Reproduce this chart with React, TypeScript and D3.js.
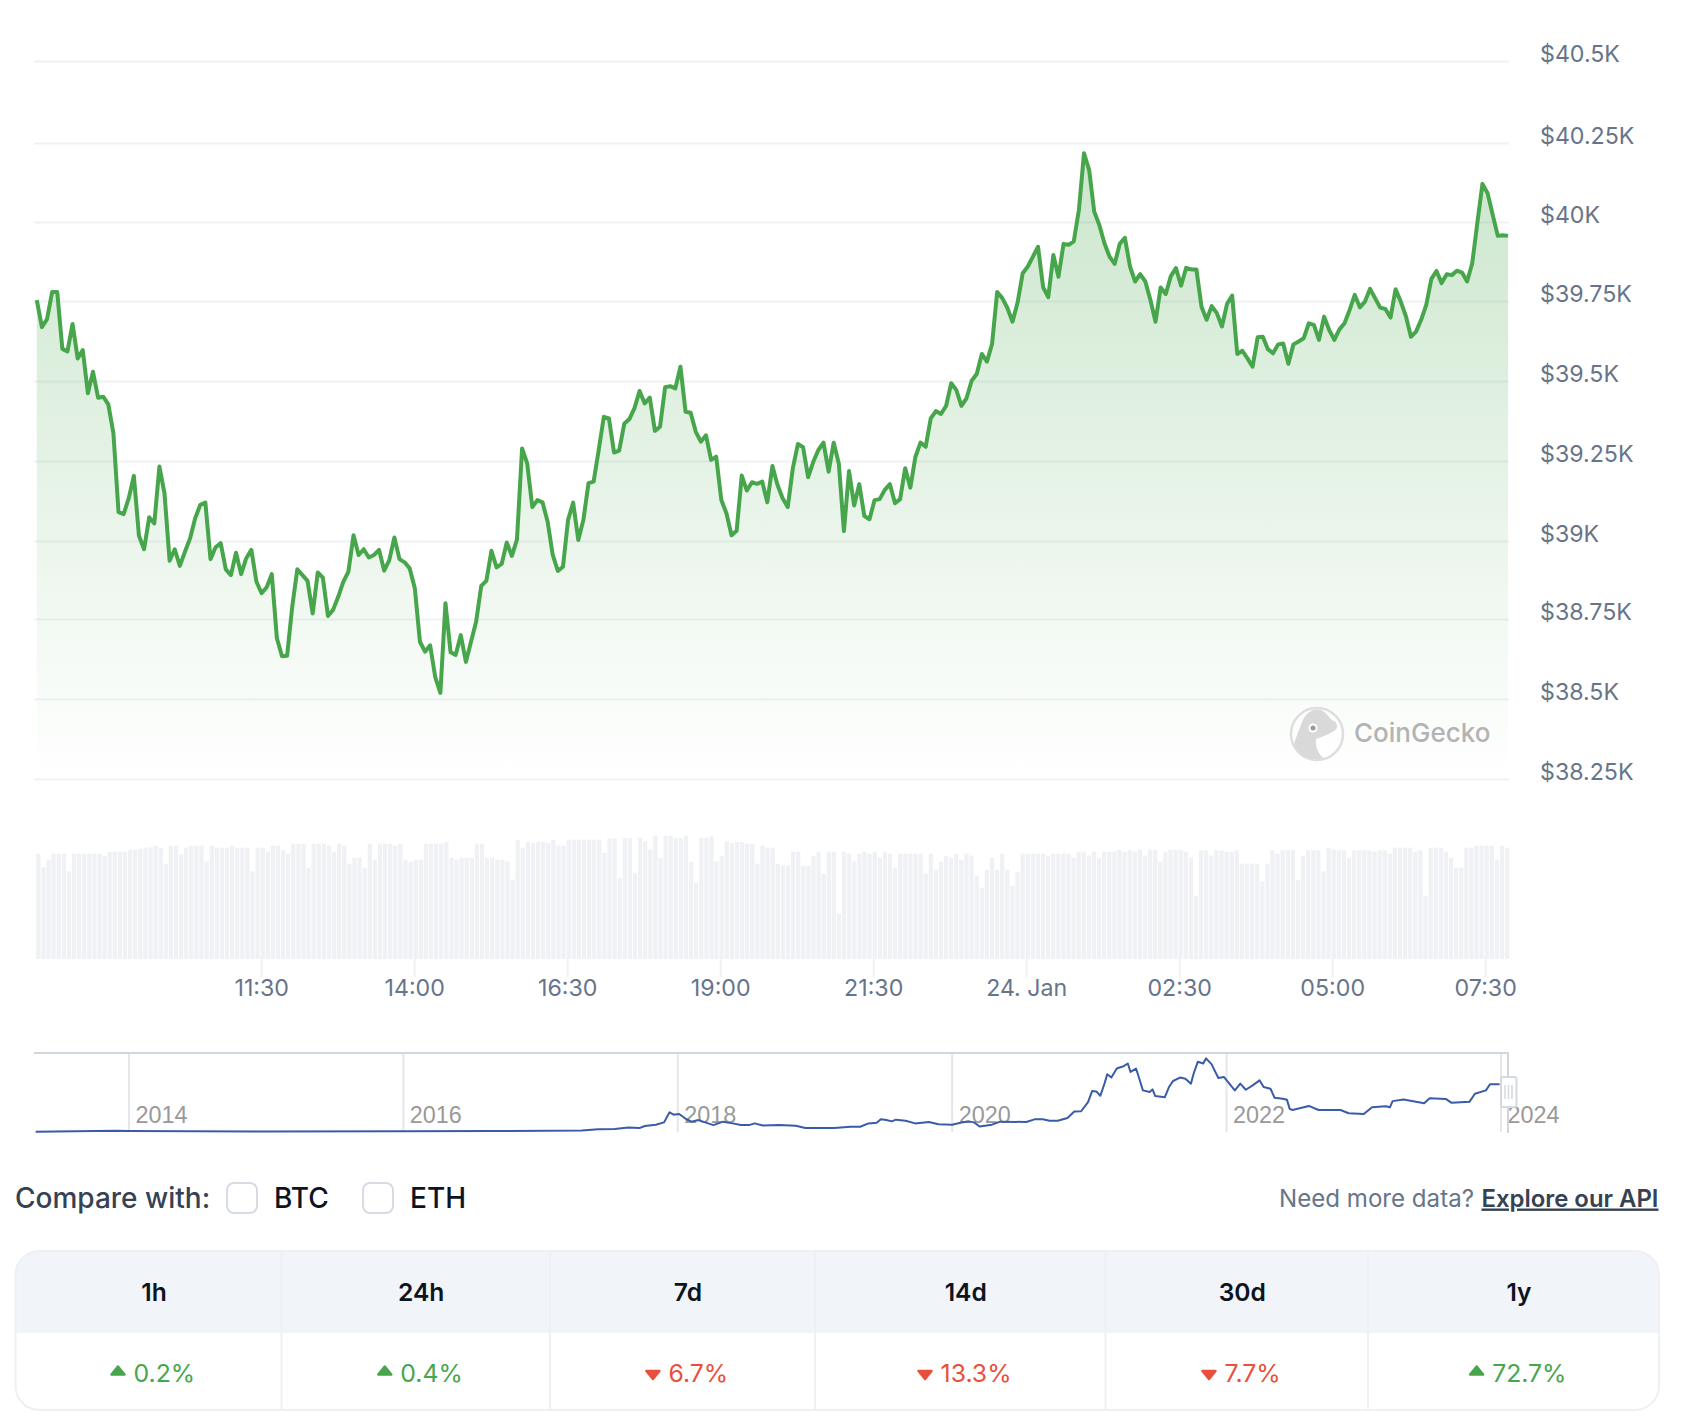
import React, { useEffect, useRef } from 'react';
import * as d3 from 'd3';

// 5 minute prices, 23 Jan 07:50 to 24 Jan 07:50
const prices = [
  39751, 39666, 39691, 39776, 39776, 39598, 39590, 39676, 39568, 39594, 39459, 39526, 39445, 39448, 39424, 39333,
  39086, 39080, 39130, 39200, 39012, 38970, 39070, 39051, 39229, 39145, 38934, 38970, 38918, 38962, 39004, 39067,
  39109, 39116, 38939, 38976, 38989, 38907, 38889, 38959, 38892, 38942, 38968, 38868, 38832, 38851, 38892, 38691,
  38635, 38636, 38790, 38907, 38889, 38871, 38769, 38897, 38881, 38761, 38780, 38821, 38868, 38900, 39014, 38952,
  38970, 38944, 38952, 38968, 38903, 38936, 39007, 38939, 38929, 38910, 38848, 38680, 38649, 38669, 38569, 38520,
  38801, 38647, 38639, 38701, 38617, 38680, 38743, 38855, 38871, 38965, 38913, 38924, 38991, 38949, 39001, 39286,
  39239, 39102, 39124, 39117, 39056, 38952, 38902, 38915, 39062, 39116, 38999, 39062, 39177, 39182, 39281, 39385,
  39380, 39273, 39279, 39363, 39378, 39412, 39466, 39427, 39445, 39341, 39354, 39478, 39481, 39474, 39542, 39401,
  39398, 39338, 39307, 39327, 39250, 39260, 39124, 39083, 39014, 39028, 39201, 39154, 39180, 39175, 39182, 39117,
  39231, 39171, 39130, 39102, 39224, 39300, 39290, 39196, 39244, 39281, 39304, 39213, 39304, 39239, 39027, 39215,
  39107, 39174, 39074, 39064, 39124, 39127, 39156, 39174, 39114, 39127, 39224, 39163, 39260, 39304, 39291, 39380,
  39403, 39394, 39419, 39490, 39469, 39419, 39443, 39498, 39519, 39582, 39558, 39613, 39776, 39757, 39726, 39683,
  39743, 39835, 39856, 39887, 39918, 39791, 39760, 39892, 39824, 39927, 39924, 39935, 40033, 40211, 40159, 40028,
  39986, 39929, 39887, 39864, 39927, 39946, 39856, 39809, 39832, 39809, 39751, 39683, 39790, 39770, 39826, 39851,
  39796, 39852, 39847, 39847, 39730, 39689, 39732, 39710, 39668, 39739, 39765, 39582, 39592, 39568, 39542, 39634,
  39636, 39597, 39584, 39612, 39615, 39551, 39612, 39621, 39631, 39678, 39673, 39626, 39699, 39657, 39626, 39659,
  39678, 39720, 39767, 39728, 39746, 39786, 39756, 39727, 39723, 39696, 39785, 39746, 39701, 39636, 39652, 39689,
  39736, 39817, 39842, 39804, 39832, 39829, 39843, 39837, 39809, 39866, 39993, 40115, 40086, 40018, 39952, 39954,
  39952
];

const volumes = [
  316, 275, 298, 316, 316, 316, 263, 316, 316, 316, 316, 316, 316, 310, 321, 322, 322, 322, 328, 328, 330, 334, 335,
  340, 334, 286, 340, 340, 314, 334, 340, 340, 340, 292, 340, 334, 334, 334, 340, 334, 334, 334, 263, 334, 334, 322,
  340, 340, 326, 316, 346, 346, 346, 274, 346, 346, 346, 340, 322, 346, 340, 286, 304, 304, 274, 346, 298, 346, 346,
  346, 340, 346, 298, 292, 298, 298, 346, 346, 346, 346, 352, 304, 298, 304, 304, 304, 346, 346, 304, 304, 298, 298,
  292, 238, 358, 334, 352, 348, 352, 352, 348, 358, 340, 340, 358, 358, 358, 358, 358, 358, 358,
  318, 361, 361, 243, 363, 363, 258, 363, 353, 328, 370, 303, 370, 370, 363, 363, 370, 291, 228, 363, 363, 368, 293,
  310, 353, 348, 351, 351, 346, 346, 286, 340, 334, 334, 286, 281, 281, 322, 322, 280, 280, 310, 322, 256, 322, 322,
  136, 322, 316, 293, 316, 322, 316, 322, 304, 322, 316, 274, 316, 316, 316, 316, 316, 256, 316, 268, 292, 310, 304,
  316, 298, 316, 310, 250, 214, 268, 304, 268, 316, 268, 220, 262, 316, 316, 316, 316, 316, 310, 316, 316, 316, 316,
  304, 322, 322, 310, 322, 304, 322, 322, 322, 328, 322, 328, 322, 328, 310, 328, 328, 292, 322, 328, 328, 328, 322,
  304, 190,
  326, 326, 310, 326, 326, 322, 322, 326, 286, 286, 286, 286, 233, 286, 326, 316, 326, 326, 326, 238, 310, 326, 326,
  326, 263, 333, 328, 326, 326, 304, 326, 326, 326, 326, 322, 326, 326, 316, 334, 334, 334, 334, 322, 326, 190, 334,
  334, 334, 322, 304, 274, 274, 334, 334, 340, 340, 340, 340, 298, 340, 334
];

const priceTicks = [38250, 38500, 38750, 39000, 39250, 39500, 39750, 40000, 40250, 40500];
const gridRows = [779, 699, 619, 541, 461, 381, 301, 222, 143, 61];

// decimal year / price for the range navigator
const navYears = [
  2013.32, 2013.9, 2014.0, 2014.46, 2014.98, 2016.0, 2016.66, 2017.06, 2017.3, 2017.42, 2017.54, 2017.64, 2017.72,
  2017.76, 2017.84, 2017.9, 2017.94, 2017.97, 2018.01, 2018.06, 2018.1, 2018.15, 2018.2, 2018.26, 2018.33, 2018.4,
  2018.46, 2018.52, 2018.56, 2018.62, 2018.74, 2018.86, 2018.93, 2019.02, 2019.14, 2019.26, 2019.33, 2019.39, 2019.45,
  2019.48, 2019.52, 2019.56, 2019.59, 2019.66, 2019.73, 2019.83, 2019.9, 2020.0, 2020.06, 2020.12, 2020.16, 2020.2,
  2020.29, 2020.35, 2020.54, 2020.6, 2020.66, 2020.71, 2020.77, 2020.84, 2020.89, 2020.94, 2020.99, 2021.02, 2021.05,
  2021.08, 2021.11, 2021.13, 2021.16, 2021.2, 2021.22, 2021.25, 2021.28, 2021.3, 2021.34, 2021.36, 2021.39, 2021.44,
  2021.46, 2021.48, 2021.55, 2021.58, 2021.61, 2021.66, 2021.7, 2021.74, 2021.76, 2021.79, 2021.83, 2021.85, 2021.89,
  2021.94, 2021.98, 2022.06, 2022.1, 2022.14, 2022.19, 2022.24, 2022.27, 2022.32, 2022.35, 2022.41, 2022.44, 2022.46,
  2022.48, 2022.6, 2022.67, 2022.83, 2022.89, 2023.0, 2023.06, 2023.16, 2023.19, 2023.21, 2023.29, 2023.44, 2023.48,
  2023.6, 2023.64, 2023.77, 2023.81, 2023.89, 2023.92, 2023.99
];
const navPrices = [
  100, 1000, 800, 600, 300, 430, 650, 1000, 1300, 2500, 2600, 4100, 3480, 5400, 6600, 8850, 18300, 16100, 16700, 12000,
  9500, 11000, 8850, 6300, 9500, 7900, 6300, 6300, 7900, 6000, 6300, 5700, 3500, 3600, 3500, 4700, 4700, 7900, 8500,
  11700, 11000, 9800, 11400, 10400, 7900, 9200, 7000, 6700, 8500, 9800, 8850, 5000, 6700, 9500, 9200, 11700, 11700,
  10400, 10400, 13000, 19000, 19300, 27800, 38200, 37900, 33800, 45200, 54000, 50900, 59400, 60400, 61600, 64100,
  56200, 59400, 51500, 38900, 37300, 39800, 33500, 32500, 42000, 47700, 50900, 49900, 45200, 54700, 65700, 64100,
  68900, 63500, 50500, 51500, 38900, 45200, 39500, 43600, 48300, 42000, 40400, 31900, 31000, 30000, 21500, 20500,
  24300, 20500, 20500, 17400, 16700, 23000, 24000, 23000, 28800, 30300, 26900, 31600, 30700, 27200, 28100, 35700,
  38900, 44600, 44600
];
const navTicks = [2014, 2016, 2018, 2020, 2022, 2024];

const periods = ['1h', '24h', '7d', '14d', '30d', '1y'];
const changes = [0.2, 0.4, -6.7, -13.3, -7.7, 72.7];

const GREEN = '#47a64b';
const RED = '#e94f3d';
const FONT = 'Inter, sans-serif';

const Chart = () => {
  const ref = useRef<SVGSVGElement>(null);

  useEffect(() => {
    drawChart();
  });

  const drawChart = () => {
    const svg = d3.select(ref.current);
    svg.selectAll('*').remove();

    const start = Date.UTC(2024, 0, 23, 7, 50);
    const end = Date.UTC(2024, 0, 24, 7, 50);
    const timeOf = (i: number) => new Date(start + i * 300000);
    const xScale = d3.scaleUtc().domain([start, end]).range([36.8, 1508]);
    // the columns and the time axis run a touch shorter than the line
    const barScale = xScale.copy().range([36.8, 1505.6]);
    const yScale = d3.scaleLinear().domain([38250, 40500]).range([779, 61]);
    const gridScale = d3.scaleLinear().domain(priceTicks).range(gridRows);

    // grid and price labels
    const yAxis = svg
      .append('g')
      .attr('transform', 'translate(1509,0)')
      .call(
        d3
          .axisRight(gridScale)
          .tickValues(priceTicks)
          .tickFormat((d: any) => `$${d / 1000}K`)
          .tickSize(-1475)
          .tickPadding(31)
      );
    yAxis.select('.domain').remove();
    yAxis.selectAll('line').attr('stroke', '#f0f1f3').attr('stroke-width', 2);
    yAxis
      .selectAll('text')
      .attr('dy', 0)
      .attr('fill', '#677489')
      .style('font', `23.2px ${FONT}`);

    // area
    const defs = svg.append('defs');
    const gradient = defs
      .append('linearGradient')
      .attr('id', 'areaFill')
      .attr('gradientUnits', 'userSpaceOnUse')
      .attr('x1', 0)
      .attr('x2', 0)
      .attr('y1', yScale(d3.max(prices) as number))
      .attr('y2', yScale(38250));
    gradient.append('stop').attr('offset', 0).attr('stop-color', GREEN).attr('stop-opacity', 0.28);
    gradient.append('stop').attr('offset', 1).attr('stop-color', GREEN).attr('stop-opacity', 0);

    const area = d3
      .area<number>()
      .x((d, i) => xScale(timeOf(i)))
      .y0(yScale(38250))
      .y1(d => yScale(d));
    const line = d3
      .line<number>()
      .x((d, i) => xScale(timeOf(i)))
      .y(d => yScale(d));

    svg.append('path').datum(prices).attr('d', area).attr('fill', 'url(#areaFill)');
    svg
      .append('path')
      .datum(prices)
      .attr('d', line)
      .attr('fill', 'none')
      .attr('stroke', GREEN)
      .attr('stroke-width', 4)
      .attr('stroke-linejoin', 'round');

    // watermark
    const mark = svg.append('g').attr('transform', 'translate(1317,734)');
    mark.append('circle').attr('r', 26).attr('fill', '#fff').attr('fill-opacity', 0.6).attr('stroke', '#dedede').attr('stroke-width', 2.5);
    mark
      .append('path')
      .attr('d', 'M-23,10 C-20,0 -17,-6 -15,-12 C-11,-22 -2,-27 6,-23 C11,-20 13,-14 17,-13 C21,-11 21,-5 17,-3 C11,1 4,3 -1,5 C-2,12 1,19 6,24 C-6,28 -18,22 -23,10 Z')
      .attr('fill', '#d9d9d9');
    mark.append('circle').attr('cx', -4).attr('cy', -6).attr('r', 4.5).attr('fill', '#fff');
    mark.append('circle').attr('cx', -4).attr('cy', -6).attr('r', 2.5).attr('fill', '#9a9a9a');
    svg
      .append('text')
      .attr('x', 1354)
      .attr('y', 742)
      .attr('fill', '#b3b3b3')
      .style('font', `500 26px ${FONT}`)
      .text('CoinGecko');

    // volume
    const volScale = d3.scaleLinear().domain([0, 370]).range([959, 835.7]);
    svg
      .append('g')
      .selectAll('rect')
      .data(volumes)
      .join('rect')
      .attr('x', (d, i) => barScale(timeOf(i)) - 0.6)
      .attr('width', 4.2)
      .attr('y', d => volScale(d))
      .attr('height', d => volScale(0) - volScale(d))
      .attr('fill', '#eff1f5');

    const timeTicks = d3.range(0, 9).map(k => new Date(Date.UTC(2024, 0, 23, 11, 30) + k * 150 * 60000));
    const xAxis = svg
      .append('g')
      .attr('transform', 'translate(0,959)')
      .call(
        d3
          .axisBottom(barScale)
          .tickValues(timeTicks)
          .tickFormat((d: any) => (d.getUTCHours() === 0 ? '24. Jan' : d3.utcFormat('%H:%M')(d)))
          .tickSize(18)
          .tickPadding(3)
      );
    xAxis.select('.domain').remove();
    xAxis.selectAll('line').attr('stroke', '#f0f1f3').attr('stroke-width', 2);
    xAxis.selectAll('text').attr('fill', '#677489').style('font', `23.2px ${FONT}`);

    // navigator
    const navX = d3.scaleLinear().domain([2013.308, 2024.051]).range([34, 1508]);
    const navY = d3.scaleLinear().domain([0, 69000]).range([1131.8, 1058.3]);
    const navGrid = svg.append('g');
    navGrid
      .selectAll('line')
      .data(navTicks)
      .join('line')
      .attr('x1', d => navX(d))
      .attr('x2', d => navX(d))
      .attr('y1', 1053)
      .attr('y2', 1132)
      .attr('stroke', '#e4e6e8')
      .attr('stroke-width', 2);
    svg
      .append('g')
      .selectAll('text')
      .data(navTicks)
      .join('text')
      .attr('x', d => navX(d) + 6.5)
      .attr('y', 1123)
      .attr('fill', '#999')
      .style('font', '23.4px "Liberation Sans", sans-serif')
      .text(d => d);
    svg
      .append('path')
      .datum(navYears.map((y, i) => [y, navPrices[i]] as [number, number]))
      .attr('d', d3.line().x(d => navX(d[0])).y(d => navY(d[1])))
      .attr('fill', 'none')
      .attr('stroke', '#3a5ba8')
      .attr('stroke-width', 2)
      .attr('stroke-linejoin', 'round');
    svg
      .append('path')
      .attr('d', 'M34,1053 H1508 V1133')
      .attr('fill', 'none')
      .attr('stroke', '#cfd6dc')
      .attr('stroke-width', 2);
    const handle = svg.append('g').attr('transform', 'translate(1501,1077)');
    handle.append('rect').attr('width', 15.5).attr('height', 30).attr('rx', 2).attr('fill', '#fff').attr('stroke', '#d5d9dd').attr('stroke-width', 2);
    handle
      .selectAll('line')
      .data([4, 7.5, 11])
      .join('line')
      .attr('x1', d => d)
      .attr('x2', d => d)
      .attr('y1', 8)
      .attr('y2', 22)
      .attr('stroke', '#d5d9dd')
      .attr('stroke-width', 1.5);

    // compare row
    const label = (x: number, y: number, txt: string, fill: string, font: string, anchor = 'start') =>
      svg
        .append('text')
        .attr('x', x)
        .attr('y', y)
        .attr('fill', fill)
        .attr('text-anchor', anchor)
        .style('font', font)
        .text(txt);
    label(15, 1208, 'Compare with:', '#364152', `500 28px ${FONT}`);
    label(274, 1208, 'BTC', '#0d1421', `500 28px ${FONT}`);
    label(410, 1208, 'ETH', '#0d1421', `500 28px ${FONT}`);
    [227, 363].forEach(x => {
      svg
        .append('rect')
        .attr('x', x)
        .attr('y', 1183)
        .attr('width', 30)
        .attr('height', 30)
        .attr('rx', 7)
        .attr('fill', '#fff')
        .attr('stroke', '#d7dce3')
        .attr('stroke-width', 2);
    });
    label(1474, 1206.5, 'Need more data?', '#677489', `400 24.1px ${FONT}`, 'end');
    label(1481.5, 1206.5, 'Explore our API', '#364152', `600 23.9px ${FONT}`).attr('text-decoration', 'underline');

    // change table
    const edges = [15.5, 281.5, 550, 815, 1105.5, 1368, 1659];
    const top = 1251;
    const mid = 1333;
    const bottom = 1410;
    defs
      .append('clipPath')
      .attr('id', 'tableClip')
      .append('rect')
      .attr('x', edges[0])
      .attr('y', top)
      .attr('width', edges[6] - edges[0])
      .attr('height', bottom - top)
      .attr('rx', 24);
    const table = svg.append('g');
    table
      .append('rect')
      .attr('x', edges[0])
      .attr('y', top)
      .attr('width', edges[6] - edges[0])
      .attr('height', mid - top)
      .attr('fill', '#f1f4f9')
      .attr('clip-path', 'url(#tableClip)');
    table
      .append('g')
      .selectAll('line')
      .data(edges.slice(1, 6))
      .join('line')
      .attr('x1', d => d)
      .attr('x2', d => d)
      .attr('y1', top)
      .attr('y2', bottom)
      .attr('stroke', '#eef0f4')
      .attr('stroke-width', 2);
    table
      .append('rect')
      .attr('x', edges[0])
      .attr('y', top)
      .attr('width', edges[6] - edges[0])
      .attr('height', bottom - top)
      .attr('rx', 24)
      .attr('fill', 'none')
      .attr('stroke', '#eef0f4')
      .attr('stroke-width', 2);

    periods.forEach((p, i) => {
      const cx = (edges[i] + edges[i + 1]) / 2 + 5.5;
      table
        .append('text')
        .attr('x', cx)
        .attr('y', 1300.5)
        .attr('text-anchor', 'middle')
        .attr('fill', '#0d1421')
        .style('font', `600 24.6px ${FONT}`)
        .text(p);
      const up = changes[i] >= 0;
      const color = up ? GREEN : RED;
      const value = table
        .append('text')
        .attr('x', cx + 10.3)
        .attr('y', 1382)
        .attr('text-anchor', 'middle')
        .attr('fill', color)
        .style('font', `400 24.8px ${FONT}`)
        .text(`${Math.abs(changes[i])}%`);
      const width = (value.node() as SVGTextElement).getComputedTextLength();
      const tx = cx + 10.3 - width / 2 - 15.5;
      table
        .append('path')
        .attr('d', up ? `M${tx},1366.5 l6.5,8 h-13 Z` : `M${tx},1379 l6.5,-8 h-13 Z`)
        .attr('fill', color)
        .attr('stroke', color)
        .attr('stroke-width', 2.5)
        .attr('stroke-linejoin', 'round');
    });
  };

  return <svg ref={ref} width={1688} height={1416} style={{ position: 'absolute', left: 0, top: 0, background: '#fff' }} />;
};

export default function App() {
  return <Chart />;
}
